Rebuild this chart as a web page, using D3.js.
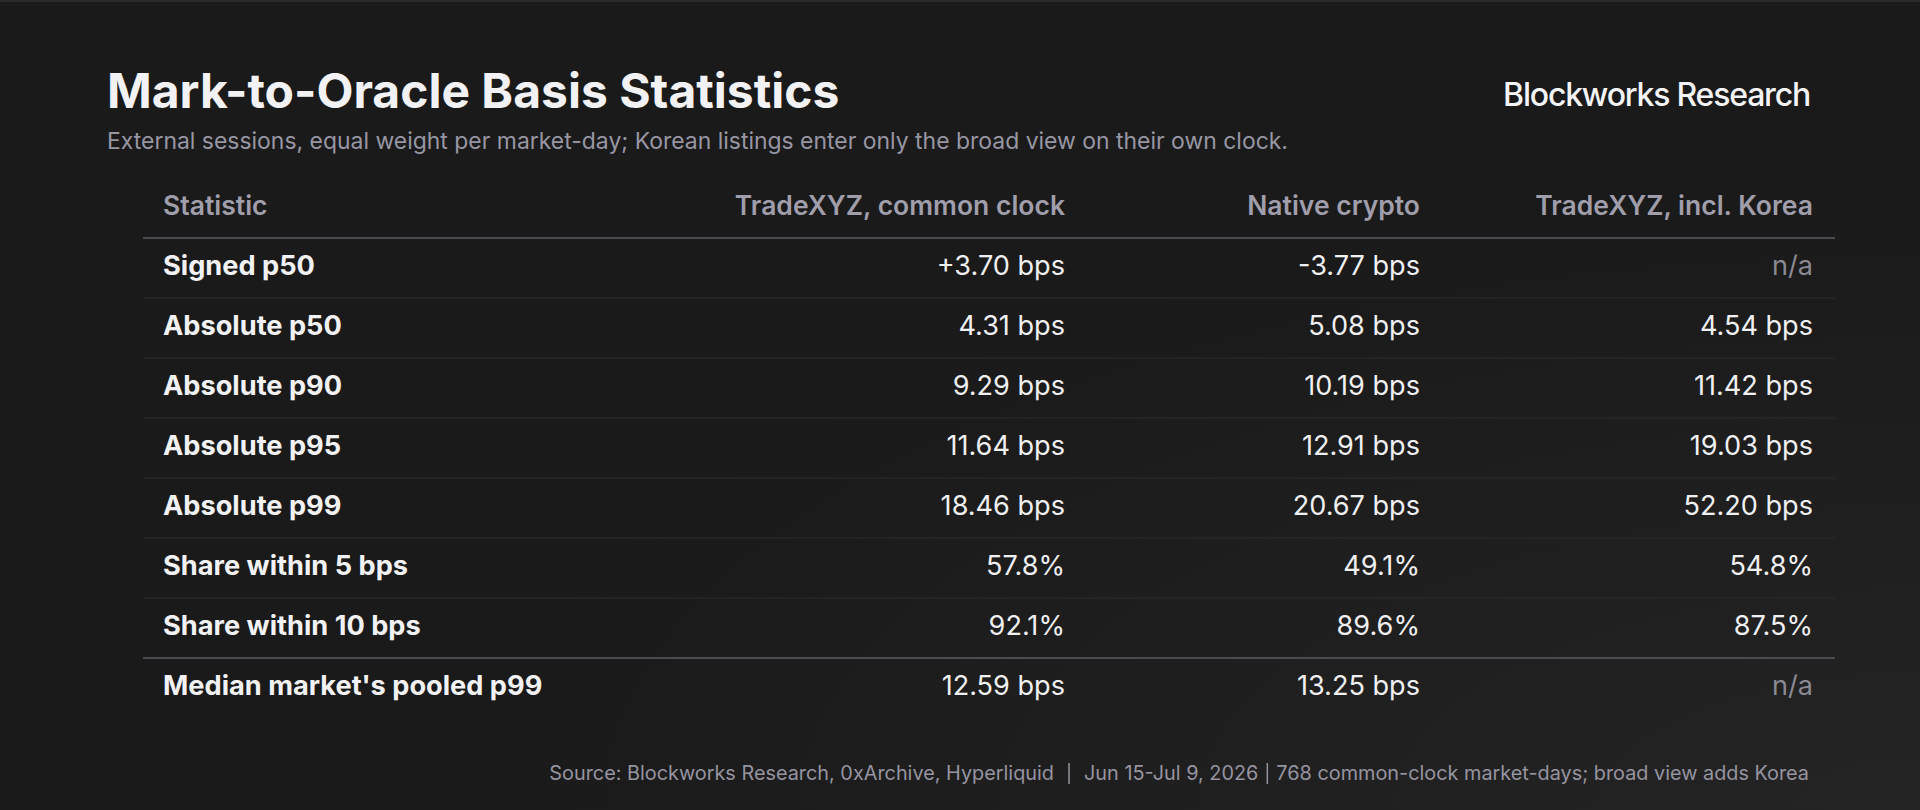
<!DOCTYPE html>
<html>
<head>
<meta charset="utf-8">
<script src="https://cdn.jsdelivr.net/npm/d3@7"></script>
<style>
  html, body { margin: 0; padding: 0; background: #1a1a1a; }
  svg { display: block; font-family: Inter, "Noto Sans", sans-serif; }
</style>
</head>
<body>
<div id="table-area"></div>
<script>
/*
*   basis table - mark-to-oracle stats, drawn as an svg table
*/

// ---- data ----
var columns = ["Statistic", "TradeXYZ, common clock", "Native crypto", "TradeXYZ, incl. Korea"];
var statistics = ["Signed p50", "Absolute p50", "Absolute p90", "Absolute p95", "Absolute p99",
                  "Share within 5 bps", "Share within 10 bps", "Median market's pooled p99"];
var units = ["signed", "bps", "bps", "bps", "bps", "pct", "pct", "bps"];
var tradeCommon = [3.70, 4.31, 9.29, 11.64, 18.46, 57.8, 92.1, 12.59];
var nativeCrypto = [-3.77, 5.08, 10.19, 12.91, 20.67, 49.1, 89.6, 13.25];
var tradeKorea = [null, 4.54, 11.42, 19.03, 52.20, 54.8, 87.5, null];
var footerParts = ["Source: Blockworks Research, 0xArchive, Hyperliquid",
                   "Jun 15-Jul 9, 2026",
                   "768 common-clock market-days; broad view adds Korea"];

var W = 1920, H = 810;
var tbl = { left: 143, right: 1835, top: 238, rowH: 60 };

var svg = d3.select("#table-area").append("svg")
    .attr("width", W).attr("height", H);

// background
var defs = svg.append("defs");
var grad = defs.append("radialGradient").attr("id", "bg")
    .attr("cx", "100%").attr("cy", "100%").attr("r", "75%");
grad.append("stop").attr("offset", "0%").attr("stop-color", "#242424");
grad.append("stop").attr("offset", "100%").attr("stop-color", "#1a1a1a");
svg.append("rect").attr("width", W).attr("height", H).attr("fill", "url(#bg)");
svg.append("rect").attr("width", W).attr("height", 2).attr("fill", "#2b2b2b");

// title block
svg.append("text")
    .attr("x", 107).attr("y", 108)
    .attr("font-size", "48px").attr("font-weight", 700)
    .attr("fill", "#f2f2f4")
    .text("Mark-to-Oracle Basis Statistics");

svg.append("text")
    .attr("x", 107).attr("y", 149)
    .attr("font-size", "22.95px")
    .attr("fill", "#9896a3")
    .text("External sessions, equal weight per market-day; Korean listings enter only the broad view on their own clock.");

svg.append("text")
    .attr("x", 1810).attr("y", 106)
    .attr("text-anchor", "end")
    .attr("font-size", "32px").attr("font-weight", 550)
    .attr("letter-spacing", "-1.2px")
    .attr("fill", "#f4f4f6")
    .text("Blockworks Research");

// scales
var y = d3.scaleBand()
    .domain(statistics)
    .range([tbl.top, tbl.top + statistics.length * tbl.rowH]);

var colX = d3.scaleOrdinal()
    .domain(columns)
    .range([163, 1065, 1420, 1813]);

var fmt = {
    signed: function(v){ return d3.format("+.2f")(v).replace("\u2212", "-") + " bps"; },
    bps: function(v){ return d3.format(".2f")(v) + " bps"; },
    pct: function(v){ return d3.format(".1f")(v) + "%"; }
};

// header
var g = svg.append("g");
g.selectAll("text.head").data(columns).enter()
  .append("text")
    .attr("class", "head")
    .attr("x", function(d){ return colX(d); })
    .attr("y", 215)
    .attr("text-anchor", function(d, i){ return i === 0 ? "start" : "end"; })
    .attr("font-size", "26.5px").attr("font-weight", 600)
    .attr("fill", "#a09eab")
    .text(function(d){ return d; });

// row separators
g.selectAll("line.sep").data(statistics.slice(1)).enter()
  .append("line")
    .attr("x1", tbl.left).attr("x2", tbl.right)
    .attr("y1", function(d){ return y(d); })
    .attr("y2", function(d){ return y(d); })
    .attr("stroke", function(d, i){ return i === statistics.length - 2 ? "#4c4b52" : "#2c2c2e"; })
    .attr("stroke-width", function(d, i){ return i === statistics.length - 2 ? 2 : 1; });

g.append("line")
    .attr("x1", tbl.left).attr("x2", tbl.right)
    .attr("y1", y.range()[0]).attr("y2", y.range()[0])
    .attr("stroke", "#4c4b52").attr("stroke-width", 2);

// row labels
g.selectAll("text.stat").data(statistics).enter()
  .append("text")
    .attr("class", "stat")
    .attr("x", colX(columns[0]))
    .attr("y", function(d){ return y(d) + 37; })
    .attr("font-size", "27.2px").attr("font-weight", 700)
    .attr("fill", "#f2f2f4")
    .text(function(d){ return d; });

// value cells
var series = [tradeCommon, nativeCrypto, tradeKorea];
series.forEach(function(vals, c){
    g.selectAll("text.col" + c).data(vals).enter()
      .append("text")
        .attr("class", "col" + c)
        .attr("x", colX(columns[c + 1]))
        .attr("y", function(d, i){ return y(statistics[i]) + 37; })
        .attr("text-anchor", "end")
        .attr("font-size", "27.1px")
        .attr("fill", function(d){ return d === null ? "#8b8993" : "#f0f0f2"; })
        .text(function(d, i){ return d === null ? "n/a" : fmt[units[i]](d); });
});

// footer, laid out right to left
var fy = 780, fx = 1809;
var gaps = [15, 9];
for (var k = footerParts.length - 1; k >= 0; k--) {
    var t = svg.append("text")
        .attr("x", fx).attr("y", fy)
        .attr("text-anchor", "end")
        .attr("font-size", "19.85px")
        .attr("fill", "#9694a0")
        .text(footerParts[k]);
    fx -= t.node().getComputedTextLength();
    if (k > 0) {
        var gp = gaps[k - 1];
        svg.append("line")
            .attr("x1", fx - gp).attr("x2", fx - gp)
            .attr("y1", fy - 17).attr("y2", fy + 4)
            .attr("stroke", "#9694a0").attr("stroke-width", 1.5);
        fx -= 2 * gp;
    }
}
</script>
</body>
</html>
